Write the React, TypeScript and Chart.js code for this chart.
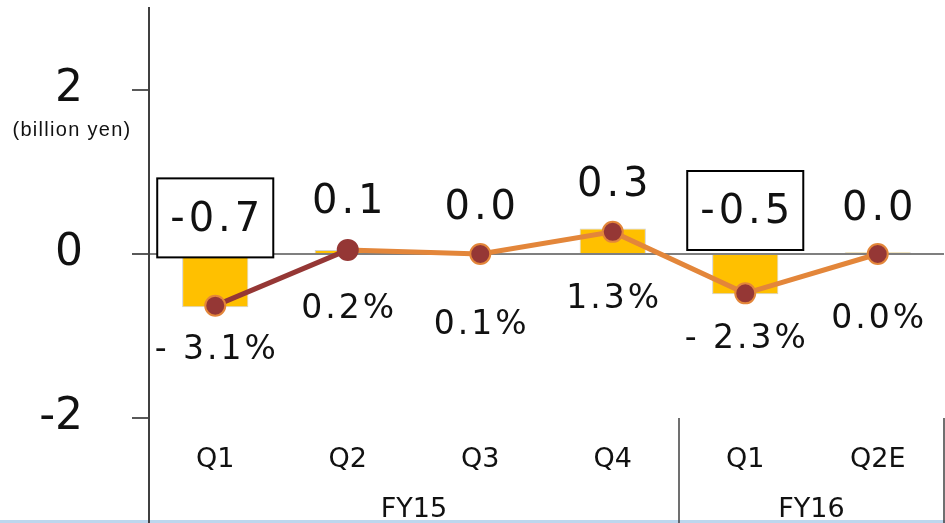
import React, { useEffect, useRef } from 'react';
import { Chart, registerables } from 'chart.js';

Chart.register(...registerables);

const categories = ['Q1', 'Q2', 'Q3', 'Q4', 'Q1', 'Q2E'];
const groups = ['FY15', 'FY16'];
const groupSizes = [4, 2];
const barValues = [-0.65, 0.05, 0.01, 0.31, -0.49, 0.02];
const lineValues = [-0.63, 0.05, 0.0, 0.27, -0.48, 0.0];
const valueLabels = ['-0.7', '0.1', '0.0', '0.3', '-0.5', '0.0'];
const valueLabelY = [0.41, 0.63, 0.55, 0.84, 0.5, 0.54];
const boxedLabels = [true, false, false, false, true, false];
const pctLabels = ['- 3.1%', '0.2%', '0.1%', '1.3%', '- 2.3%', '0.0%'];
const pctLabelY = [-1.18, -0.68, -0.87, -0.55, -1.04, -0.8];
const yTicks = [-2, 0, 2];
const yMin = -2;
const yMax = 3;
const unitLabel = '(billion yen)';

const W = 945;
const H = 523;
const GOLD = '#FFC000';
const RED = '#953735';
const ORANGE = '#E3863A';
const TEXT = '#111111';
const FONT = '"DejaVu Sans", Verdana, sans-serif';

const overlay = {
  id: 'overlay',
  afterDraw(chart: any) {
    const { ctx, chartArea, scales } = chart;
    const x = scales.x;
    const y = scales.y;
    ctx.save();
    // bottom band
    ctx.fillStyle = '#BDD7EE';
    ctx.fillRect(0, H - 3, W, 3);

    // axis extension & group dividers
    ctx.strokeStyle = '#404040';
    ctx.lineWidth = 2;
    ctx.beginPath();
    ctx.moveTo(chartArea.left, chartArea.bottom);
    ctx.lineTo(chartArea.left, H);
    ctx.stroke();

    let start = 0;
    const half = (x.getPixelForValue(1) - x.getPixelForValue(0)) / 2;
    ctx.lineWidth = 1.5;
    groups.forEach((g, gi) => {
      const end = start + groupSizes[gi] - 1;
      const left = x.getPixelForValue(start) - half;
      const right = Math.min(x.getPixelForValue(end) + half, chartArea.right);
      ctx.beginPath();
      ctx.moveTo(right, chartArea.bottom);
      ctx.lineTo(right, H);
      ctx.stroke();
      ctx.fillStyle = TEXT;
      ctx.font = `27px ${FONT}`;
      ctx.textAlign = 'center';
      ctx.textBaseline = 'middle';
      ctx.fillText(g, (left + right) / 2, 510);
      start = end + 1;
    });

    // unit label
    ctx.fillStyle = TEXT;
    ctx.font = '20px "Liberation Sans", Arial, sans-serif';
    (ctx as any).letterSpacing = '1.3px';
    ctx.textAlign = 'center';
    ctx.textBaseline = 'middle';
    ctx.fillText(unitLabel, 72, y.getPixelForValue(2) + 40);

    // value labels
    ctx.font = `40px ${FONT}`;
    (ctx as any).letterSpacing = '4px';
    valueLabels.forEach((t, i) => {
      const cx = x.getPixelForValue(i);
      const cy = y.getPixelForValue(valueLabelY[i]);
      if (boxedLabels[i]) {
        const w = ctx.measureText(t).width + 22;
        ctx.fillStyle = '#FFFFFF';
        ctx.fillRect(cx - w / 2, cy - 42, w, 79);
        ctx.strokeStyle = '#000000';
        ctx.lineWidth = 2;
        ctx.strokeRect(cx - w / 2, cy - 42, w, 79);
      }
      ctx.fillStyle = TEXT;
      ctx.fillText(t, cx + 2, cy);
    });

    // percentage labels
    ctx.font = `33px ${FONT}`;
    (ctx as any).letterSpacing = '3px';
    pctLabels.forEach((t, i) => {
      const cx = x.getPixelForValue(i);
      const cy = y.getPixelForValue(pctLabelY[i]);
      ctx.fillStyle = TEXT;
      ctx.fillText(t, cx + 1.5, cy);
    });
    ctx.restore();
  },
};

export default function App() {
  const ref = useRef<HTMLCanvasElement | null>(null);
  useEffect(() => {
    if (!ref.current) return;
    const chart = new Chart(ref.current, {
      type: 'bar',
      data: {
        labels: categories,
        datasets: [
          {
            type: 'line',
            data: lineValues,
            borderColor: ORANGE,
            borderWidth: 5,
            pointRadius: 10,
            pointBackgroundColor: RED,
            pointBorderColor: lineValues.map((_, i) => (i === 1 ? RED : ORANGE)),
            pointBorderWidth: 2,
            segment: {
              borderColor: (c: any) => (c.p0DataIndex === 0 ? RED : ORANGE),
            },
            order: 0,
          } as any,
          {
            type: 'bar',
            data: barValues,
            backgroundColor: GOLD,
            borderColor: '#D0D0D0',
            borderWidth: 1,
            barPercentage: 0.5,
            categoryPercentage: 1,
            order: 1,
          },
        ],
      },
      options: {
        animation: false,
        responsive: false,
        maintainAspectRatio: false,
        layout: { autoPadding: false, padding: { top: 8, right: 1, left: 0, bottom: 0 } },
        plugins: { legend: { display: false }, tooltip: { enabled: false } },
        scales: {
          x: {
            grid: { display: false },
            border: { display: false },
            ticks: {
              font: { family: FONT, size: 27 },
              color: TEXT,
              padding: 18,
              maxRotation: 0,
              autoSkip: false,
            },
            afterFit: (s: any) => {
              s.height = 105;
              s.paddingLeft = 0;
              s.paddingRight = 0;
            },
          },
          y: {
            min: yMin,
            max: yMax,
            afterBuildTicks: (s: any) => {
              s.ticks = yTicks.map((v) => ({ value: v }));
            },
            afterFit: (s: any) => {
              s.width = 149;
              s.paddingTop = 0;
              s.paddingBottom = 0;
            },
            ticks: {
              font: { family: FONT, size: 44 },
              color: TEXT,
              padding: 49,
            },
            grid: {
              color: (c: any) => (c.tick && c.tick.value === 0 ? '#7F7F7F' : 'rgba(0,0,0,0)'),
              tickColor: '#595959',
              lineWidth: 2,
              tickLength: 17,
              drawTicks: true,
            },
            border: { display: true, color: '#404040', width: 2 },
          },
        },
      } as any,
      plugins: [overlay],
    });
    return () => chart.destroy();
  }, []);
  return (
    <div style={{ position: 'fixed', left: 0, top: 0, width: W, height: H, background: '#fff' }}>
      <canvas ref={ref} width={W} height={H} style={{ display: 'block', width: W, height: H }} />
    </div>
  );
}
